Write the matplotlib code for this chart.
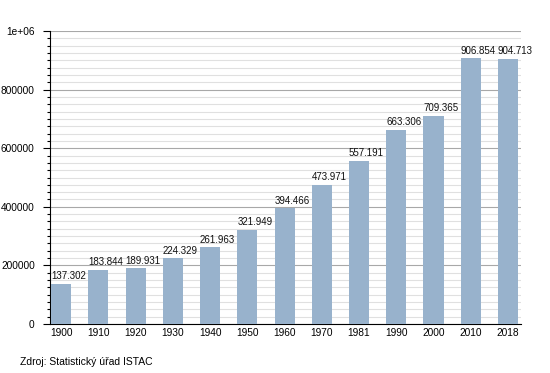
import matplotlib
matplotlib.use("Agg")
import matplotlib.pyplot as plt
from matplotlib.ticker import MultipleLocator

years = ["1900", "1910", "1920", "1930", "1940", "1950", "1960", "1970", "1981", "1990", "2000", "2010", "2018"]
population = [137302, 183844, 189931, 224329, 261963, 321949, 394466, 473971, 557191, 663306, 709365, 906854, 904713]
labels = ["137.302", "183.844", "189.931", "224.329", "261.963", "321.949", "394.466", "473.971", "557.191", "663.306", "709.365", "906.854", "904.713"]
yticks = [0, 200000, 400000, 600000, 800000, 1000000]
ytick_labels = ["0", "200000", "400000", "600000", "800000", "1e+06"]
source = "Zdroj: Statistický úřad ISTAC"

plt.rcParams['font.family'] = ['Liberation Sans', 'DejaVu Sans']
fs = 7.0
fig = plt.figure(figsize=(5.5, 3.73), dpi=100)
ax = fig.add_axes([50/550, 1-324/373, 471/550, 293/373])

x = list(range(len(years)))
bw = 0.54
ax.bar(x, population, width=bw, color="#98b2cc", zorder=3)
for xi, v, lab in zip(x, population, labels):
    ax.text(xi - bw/2, v + 16000, lab, ha="left", va="baseline", fontsize=fs, color="#111111", zorder=4)

ax.set_xlim(-0.3, 12.35)
ax.set_ylim(0, 1000000)
ax.set_xticks(x)
ax.set_xticklabels(years, fontsize=7.3)
ax.set_yticks(yticks)
ax.set_yticklabels(ytick_labels, fontsize=7.3)
ax.yaxis.set_minor_locator(MultipleLocator(25000))
ax.grid(axis="y", which="major", color="#a8a8a8", linewidth=0.8, zorder=0)
ax.grid(axis="y", which="minor", color="#e0e0e0", linewidth=0.8, zorder=0)
ax.tick_params(axis="x", length=0, pad=3)
ax.tick_params(axis="y", which="major", length=5, width=0.8, pad=6)
ax.tick_params(axis="y", which="minor", length=2.5, width=0.8)
for s in ["top", "right"]:
    ax.spines[s].set_visible(False)
ax.spines["left"].set_color("black")
ax.spines["bottom"].set_color("black")

fig.text(20/550, 1-362/373, source, fontsize=7.5, ha="left", va="center")
fig.savefig("out.png", dpi=100)
